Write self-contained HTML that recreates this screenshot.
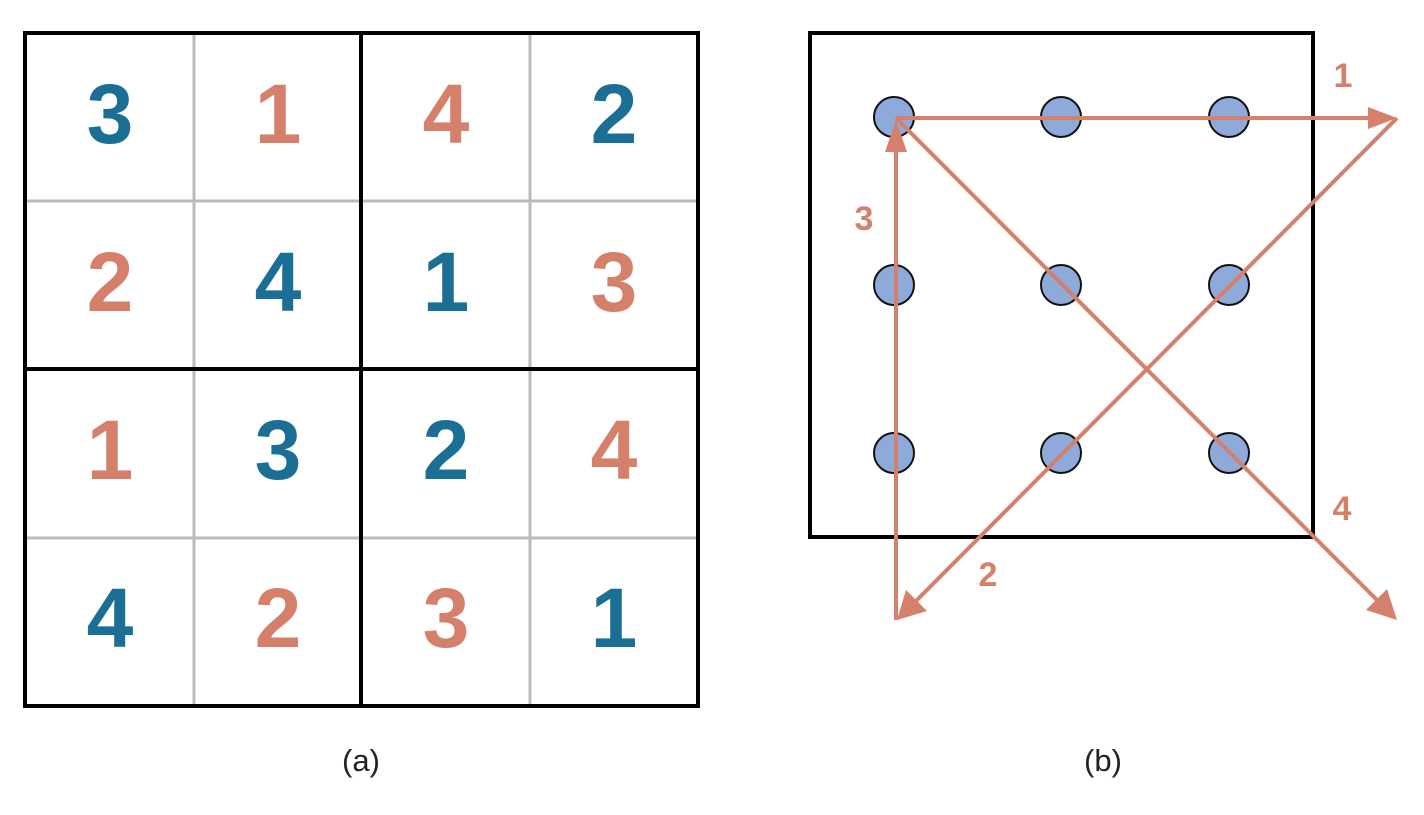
<!DOCTYPE html>
<html><head><meta charset="utf-8"><style>body{margin:0;background:#fff}svg{display:block}</style></head>
<body>
<svg width="1424" height="815" viewBox="0 0 1424 815" xmlns="http://www.w3.org/2000/svg">
<g stroke="#bbb" stroke-width="3">
<line x1="194" y1="33" x2="194" y2="706"/><line x1="530" y1="33" x2="530" y2="706"/>
<line x1="25" y1="201" x2="698" y2="201"/><line x1="25" y1="538" x2="698" y2="538"/>
</g>
<g stroke="#000" stroke-width="4" fill="none">
<rect x="25" y="33" width="673" height="673"/>
<line x1="361" y1="33" x2="361" y2="706"/><line x1="25" y1="369" x2="698" y2="369"/>
</g>
<g font-family="Liberation Sans, sans-serif" font-weight="bold" font-size="84" text-anchor="middle">
<text x="110" y="143" fill="#1B6F94">3</text><text x="278" y="143" fill="#D4806A">1</text><text x="446" y="143" fill="#D4806A">4</text><text x="614" y="143" fill="#1B6F94">2</text>
<text x="110" y="311" fill="#D4806A">2</text><text x="278" y="311" fill="#1B6F94">4</text><text x="446" y="311" fill="#1B6F94">1</text><text x="614" y="311" fill="#D4806A">3</text>
<text x="110" y="479" fill="#D4806A">1</text><text x="278" y="479" fill="#1B6F94">3</text><text x="446" y="479" fill="#1B6F94">2</text><text x="614" y="479" fill="#D4806A">4</text>
<text x="110" y="647" fill="#1B6F94">4</text><text x="278" y="647" fill="#D4806A">2</text><text x="446" y="647" fill="#D4806A">3</text><text x="614" y="647" fill="#1B6F94">1</text>
</g>
<rect x="810" y="33" width="503" height="504" fill="none" stroke="#000" stroke-width="4"/>
<g fill="#8EAADB" stroke="#111" stroke-width="2">
<circle cx="894" cy="117" r="20"/><circle cx="1061" cy="117" r="20"/><circle cx="1229" cy="117" r="20"/>
<circle cx="894" cy="285" r="20"/><circle cx="1061" cy="285" r="20"/><circle cx="1229" cy="285" r="20"/>
<circle cx="894" cy="453" r="20"/><circle cx="1061" cy="453" r="20"/><circle cx="1229" cy="453" r="20"/>
</g>
<g stroke="#D4806A" stroke-width="4" fill="none">
<line x1="896" y1="118" x2="1375" y2="118"/>
<line x1="1397" y1="118" x2="912" y2="605"/>
<line x1="896" y1="620" x2="896" y2="140"/>
<line x1="896" y1="118" x2="1380" y2="603"/>
</g>
<g fill="#D4806A">
<polygon points="1397,118 1368,107 1368,129"/>
<polygon points="897,620 906,590 927,611"/>
<polygon points="896,120 885,152 907,152"/>
<polygon points="1397,620 1366,610 1387,589"/>
</g>
<g font-family="Liberation Sans, sans-serif" font-weight="bold" font-size="34" fill="#D4806A" text-anchor="middle">
<text x="1343" y="87">1</text><text x="988" y="586">2</text><text x="864" y="230">3</text><text x="1342" y="520">4</text>
</g>
<g font-family="Liberation Sans, sans-serif" font-size="31" fill="#222" text-anchor="middle">
<text x="361" y="771">(a)</text><text x="1103" y="771">(b)</text>
</g>
</svg>
</body></html>
